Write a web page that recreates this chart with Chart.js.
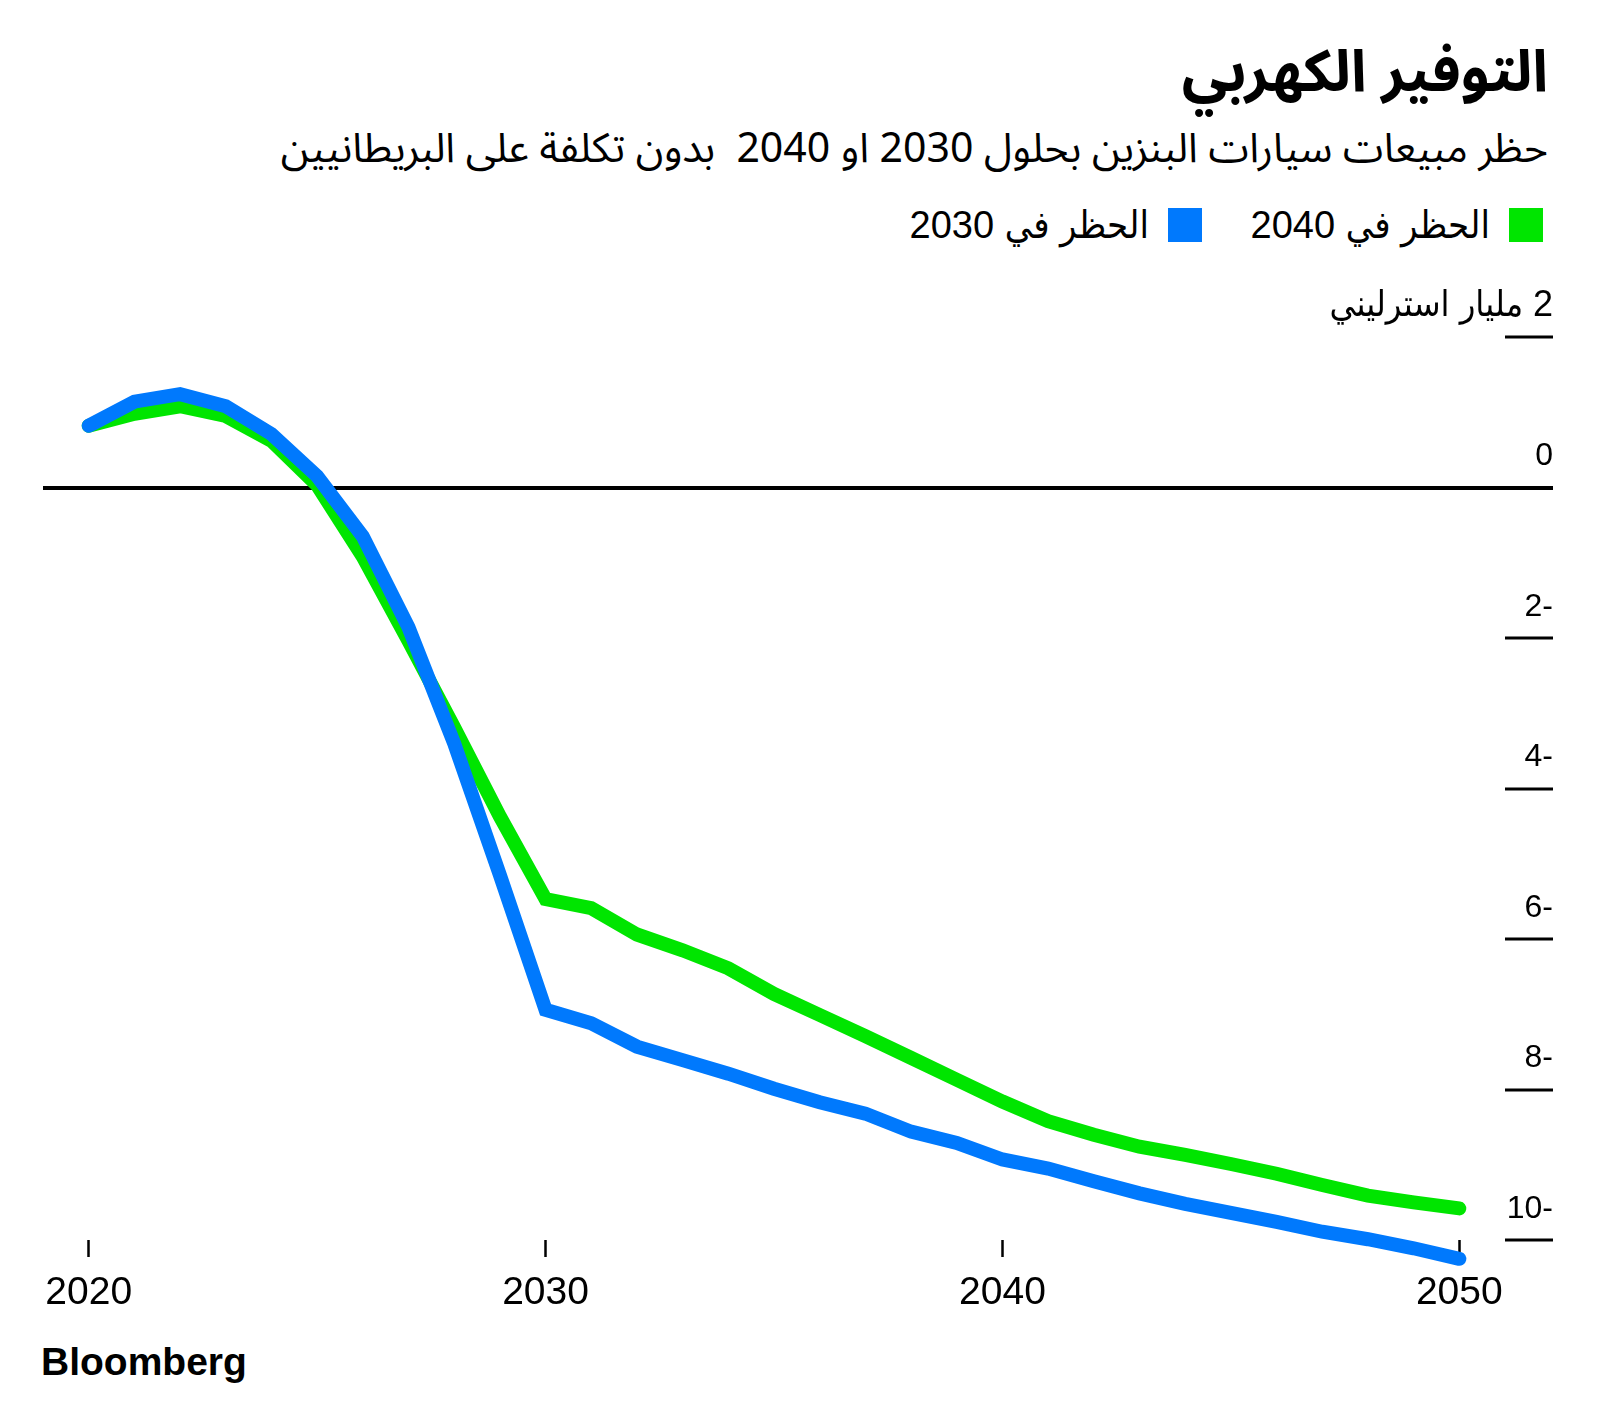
<!DOCTYPE html>
<html lang="ar">
<head>
<meta charset="utf-8">
<title>التوفير الكهربي</title>
<script src="https://cdn.jsdelivr.net/npm/chart.js@4"></script>
<style>
  html, body { margin: 0; padding: 0; background: #fff; }
  #page { position: relative; width: 1600px; height: 1406px; overflow: hidden; }
  .ar { position: absolute; direction: rtl; white-space: pre; color: #000;
        font-family: "Noto Sans Arabic", "DejaVu Sans Condensed", "DejaVu Sans", sans-serif; }
  #title { right: 52px; top: 44px; font-size: 58px; font-weight: bold; line-height: 1; }
  #subtitle { right: 52px; top: 129px; font-size: 41px; line-height: 1; }
  .swatch { position: absolute; top: 208px; width: 34px; height: 34px; }
  .leg { top: 206px; font-size: 38px; line-height: 1;
         font-family: "Liberation Sans", "DejaVu Sans Condensed", "DejaVu Sans", sans-serif; }
  #logo { position: absolute; left: 41px; top: 1342px; font-family: "Liberation Sans", Arial, sans-serif;
          font-weight: bold; font-size: 39px; letter-spacing: 0; line-height: 1; }
  #chart { position: absolute; left: 0; top: 0; }
</style>
</head>
<body>
<div id="page">
  <div id="title" class="ar">التوفير الكهربي</div>
  <div id="subtitle" class="ar">حظر مبيعات سيارات البنزين بحلول 2030 او 2040  بدون تكلفة على البريطانيين</div>
  <div class="swatch" style="left:1509px;background:#00e500"></div>
  <div class="ar leg" style="right:110px">الحظر في 2040</div>
  <div class="swatch" style="left:1168px;background:#0079fd"></div>
  <div class="ar leg" style="right:451px">الحظر في 2030</div>
  <div id="logo">Bloomberg</div>
  <canvas id="chart" dir="rtl" width="1600" height="1406"></canvas>
</div>
<script>
// years on the x axis
const years = [2020, 2021, 2022, 2023, 2024, 2025, 2026, 2027, 2028, 2029, 2030,
               2031, 2032, 2033, 2034, 2035, 2036, 2037, 2038, 2039, 2040,
               2041, 2042, 2043, 2044, 2045, 2046, 2047, 2048, 2049, 2050];

// ban in 2030 (billion pounds)
const ban2030 = [0.82, 1.14, 1.24, 1.08, 0.71, 0.15, -0.65, -1.86, -3.40, -5.15, -6.94,
                 -7.12, -7.43, -7.61, -7.79, -7.99, -8.17, -8.32, -8.56, -8.71, -8.93,
                 -9.05, -9.22, -9.38, -9.52, -9.64, -9.76, -9.89, -9.99, -10.11, -10.25];

// ban in 2040 (billion pounds)
const ban2040 = [0.82, 0.98, 1.08, 0.95, 0.62, 0.03, -0.92, -2.04, -3.19, -4.37, -5.47,
                 -5.59, -5.94, -6.15, -6.39, -6.73, -7.01, -7.29, -7.58, -7.87, -8.16,
                 -8.42, -8.60, -8.76, -8.87, -8.99, -9.12, -9.27, -9.41, -9.50, -9.58];

const xTicks = [2020, 2030, 2040, 2050];
const yTicks = [2, 0, -2, -4, -6, -8, -10];
const unitLabel = 'مليار استرليني';

const toPoints = (vals) => vals.map((v, i) => ({ x: years[i], y: v }));
const isTop = (ctx) => ctx.tick && ctx.tick.value === 2;
const isZero = (ctx) => ctx.tick && ctx.tick.value === 0;

new Chart(document.getElementById('chart'), {
    type: 'line',
    data: {
        datasets: [
            {
                label: 'الحظر في 2030',
                data: toPoints(ban2030),
                borderColor: '#0079fd',
                borderWidth: 14,
                borderCapStyle: 'round',
                pointRadius: 0,
                clip: false,
            },
            {
                label: 'الحظر في 2040',
                data: toPoints(ban2040),
                borderColor: '#00e500',
                borderWidth: 14,
                borderCapStyle: 'round',
                pointRadius: 0,
                clip: false,
            },
        ],
    },
    options: {
        responsive: false,
        animation: false,
        events: [],
        layout: { padding: { left: 43, right: 47, top: 337, bottom: 76 } },
        plugins: { legend: { display: false }, tooltip: { enabled: false } },
        scales: {
            x: {
                type: 'linear',
                min: 2019,
                max: 2051,
                afterFit: (scale) => { scale.height = 90; },
                afterBuildTicks: (scale) => { scale.ticks = xTicks.map(v => ({ value: v })); },
                border: { display: false },
                grid: { drawOnChartArea: false, drawTicks: true, tickLength: 17, tickWidth: 2.5, tickColor: '#000' },
                ticks: {
                    color: '#000',
                    padding: 13,
                    font: { family: '"Liberation Sans", Arial, sans-serif', size: 39 },
                    callback: (v) => String(v),
                },
            },
            y: {
                position: 'right',
                min: -10,
                max: 2,
                afterFit: (scale) => { scale.width = 48; },
                afterBuildTicks: (scale) => { scale.ticks = yTicks.map(v => ({ value: v })); },
                border: { display: false },
                grid: {
                    drawOnChartArea: true,
                    color: (ctx) => isZero(ctx) ? '#000' : 'rgba(0,0,0,0)',
                    lineWidth: (ctx) => isZero(ctx) ? 4 : 0,
                    drawTicks: true,
                    tickLength: 48,
                    tickColor: '#000',
                    tickWidth: (ctx) => isZero(ctx) ? 4 : 3,
                },
                ticks: {
                    color: '#000',
                    mirror: true,
                    crossAlign: 'near',
                    padding: 48,
                    labelOffset: -31,
                    font: (ctx) => ({
                        family: '"Liberation Sans", "DejaVu Sans Condensed", sans-serif',
                        size: isTop(ctx) ? 36 : 32,
                    }),
                    callback: (v) => v === 2 ? v + ' ' + unitLabel : String(v),
                },
            },
        },
    },
});
</script>
</body>
</html>
